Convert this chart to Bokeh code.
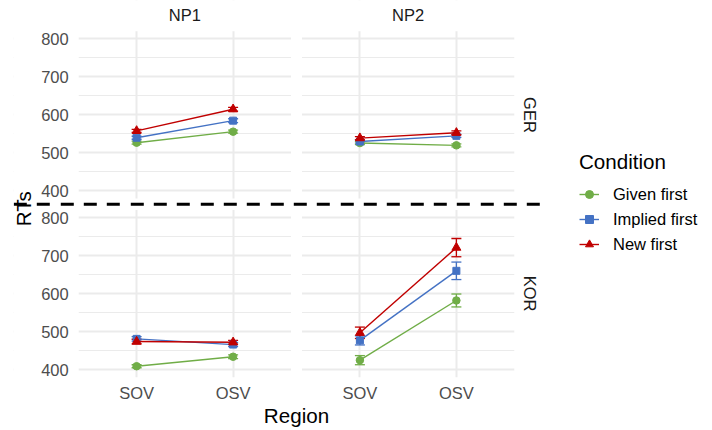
import math
from bokeh.plotting import figure
from bokeh.layouts import row
from bokeh.models import (ColumnDataSource, FactorRange, Range1d, FixedTicker,
                          CategoricalTicker, LinearAxis, Grid,
                          Legend, LegendItem, Whisker, TeeHead, Arrow, Label,
                          BoxAnnotation)
from bokeh.transform import dodge
from bokeh.core.properties import value
from bokeh.embed import file_html
from bokeh.resources import INLINE

# ---------------- data ----------------
regions = ["SOV", "OSV"]
positions = ["NP1", "NP2"]
languages = ["GER", "KOR"]
conditions = ["Given first", "Implied first", "New first"]

# mean RTs, values for [SOV, OSV]
ger_np1_given = [527, 556]
ger_np1_implied = [540, 585]
ger_np1_new = [558, 615]
ger_np2_given = [526, 520]
ger_np2_implied = [530, 545]
ger_np2_new = [539, 553]
kor_np1_given = [409, 434]
kor_np1_implied = [481, 466]
kor_np1_new = [474, 472]
kor_np2_given = [425, 582]
kor_np2_implied = [477, 660]
kor_np2_new = [497, 721]

# standard errors, [SOV, OSV]
ger_np1_given_se = [4, 4]
ger_np1_implied_se = [4, 5]
ger_np1_new_se = [4, 5]
ger_np2_given_se = [4, 4]
ger_np2_implied_se = [4, 4]
ger_np2_new_se = [4, 5]
kor_np1_given_se = [4, 5]
kor_np1_implied_se = [6, 5]
kor_np1_new_se = [6, 5]
kor_np2_given_se = [12, 17]
kor_np2_implied_se = [12, 23]
kor_np2_new_se = [15, 24]

y_ticks = [400, 500, 600, 700, 800]
y_minor_ticks = [450, 550, 650, 750]
y_limits = [380, 820]

means = {
    ("GER", "NP1"): [ger_np1_given, ger_np1_implied, ger_np1_new],
    ("GER", "NP2"): [ger_np2_given, ger_np2_implied, ger_np2_new],
    ("KOR", "NP1"): [kor_np1_given, kor_np1_implied, kor_np1_new],
    ("KOR", "NP2"): [kor_np2_given, kor_np2_implied, kor_np2_new],
}
ses = {
    ("GER", "NP1"): [ger_np1_given_se, ger_np1_implied_se, ger_np1_new_se],
    ("GER", "NP2"): [ger_np2_given_se, ger_np2_implied_se, ger_np2_new_se],
    ("KOR", "NP1"): [kor_np1_given_se, kor_np1_implied_se, kor_np1_new_se],
    ("KOR", "NP2"): [kor_np2_given_se, kor_np2_implied_se, kor_np2_new_se],
}

# ---------------- style ----------------
FONT = "Liberation Sans"
colors = ["#70AD47", "#4472C4", "#C00000"]
marker_types = ["circle", "square", "triangle"]
marker_sizes = [7.5, 7, 9]
GRID = "#EBEBEB"
TICK_SIZE = "16.5px"
TITLE_SIZE = "20.6px"

# ---------------- layout ----------------
# facets: GER panel stacked above KOR panel on one shared (offset) y scale
GAP = 30
offsets = {"GER": (y_limits[1] - y_limits[0]) + GAP, "KOR": 0}
y_range = Range1d(240, 1371)

GROUP_PAD = 0.314          # gap between NP1 and NP2 panels
PANEL_PAD = 0.6            # discrete-scale expansion inside each panel
RANGE_PAD = 0.776          # room outside the panels for labels
x_range = FactorRange(factors=[(pos, reg) for pos in positions for reg in regions],
                      factor_padding=0, group_padding=GROUP_PAD,
                      range_padding=RANGE_PAD, range_padding_units="absolute")
panel_left = 0.5 - PANEL_PAD
panel_right = len(positions) * len(regions) - 0.5 + GROUP_PAD + PANEL_PAD
gap_left = len(regions) - 0.5 + PANEL_PAD
gap_right = len(regions) + 0.5 + GROUP_PAD - PANEL_PAD
ger_bottom = y_limits[0] + offsets["GER"]
ger_top = y_limits[1] + offsets["GER"]

p = figure(x_range=x_range, y_range=y_range, width=579, height=430,
           min_border_left=13, min_border_right=0, min_border_top=0,
           min_border_bottom=0, x_axis_location=None, y_axis_location=None,
           toolbar_location=None, tools="", output_backend="svg")
p.outline_line_color = None
p.background_fill_color = "white"
p.border_fill_color = "white"
p.center = [r for r in p.center if not isinstance(r, Grid)]

major_v = [t + offsets[l] for l in languages for t in y_ticks]
minor_v = [t + offsets[l] for l in languages for t in y_minor_ticks]
overrides = {t + offsets[l]: str(t) for l in languages for t in y_ticks}

p.add_layout(Grid(dimension=0, ticker=CategoricalTicker(),
                  grid_line_color=GRID, grid_line_width=2), "center")
p.add_layout(Grid(dimension=1, ticker=FixedTicker(ticks=major_v, minor_ticks=minor_v),
                  grid_line_color=GRID, grid_line_width=2,
                  minor_grid_line_color=GRID, minor_grid_line_width=1.1), "center")
# white space around / between the facet panels
mask = dict(fill_color="white", fill_alpha=1, line_alpha=0, level="underlay")
p.add_layout(BoxAnnotation(right=panel_left, **mask))
p.add_layout(BoxAnnotation(left=panel_right, **mask))
p.add_layout(BoxAnnotation(left=gap_left, right=gap_right, **mask))
p.add_layout(BoxAnnotation(bottom=ger_top, **mask))
p.add_layout(BoxAnnotation(bottom=y_limits[1], top=ger_bottom, **mask))
p.add_layout(BoxAnnotation(top=y_limits[0], **mask))

# y axis drawn at the panels' left edge
left = LinearAxis(ticker=FixedTicker(ticks=major_v), major_label_overrides=overrides,
                  fixed_location=panel_left)
left.axis_line_color = None
left.major_tick_line_color = None
left.minor_tick_line_color = None
left.major_tick_out = 0
left.minor_tick_out = 0
left.major_tick_in = 0
left.major_label_standoff = 10
left.major_label_text_font = FONT
left.major_label_text_font_size = TICK_SIZE
left.major_label_text_color = "#4D4D4D"
p.add_layout(left, "left")

# data
for lang in languages:
    off = offsets[lang]
    for pos in positions:
        for i, cond in enumerate(conditions):
            m = means[(lang, pos)][i]
            s = ses[(lang, pos)][i]
            src = ColumnDataSource(dict(
                x=[(pos, r) for r in regions],
                rt=m,
                upper=[a + b for a, b in zip(m, s)],
                lower=[a - b for a, b in zip(m, s)],
            ))
            c = colors[i]
            p.add_layout(Whisker(base="x", upper=dodge("upper", off), lower=dodge("lower", off),
                                 source=src, dimension="height", line_color=c, line_width=1.3,
                                 upper_head=TeeHead(size=10, line_color=c, line_width=1.3),
                                 lower_head=TeeHead(size=10, line_color=c, line_width=1.3)))
            p.line(x="x", y=dodge("rt", off), source=src, line_color=c, line_width=1.4)
            p.scatter(x="x", y=dodge("rt", off), source=src, marker=marker_types[i],
                      size=marker_sizes[i], color=c)

# x tick labels (region) under the bottom panels
tick_src = ColumnDataSource(dict(x=[(pos, r) for pos in positions for r in regions],
                                 label=[r for pos in positions for r in regions]))
p.text(x="x", y=337.9, text="label", source=tick_src, text_align="center",
       text_baseline="middle", text_font=value(FONT), text_font_size=value(TICK_SIZE),
       text_color="#4D4D4D")
# facet strip labels on top
strip_src = ColumnDataSource(dict(x=positions, label=positions))
p.text(x="x", y=1333.4, text="label", source=strip_src, text_align="center",
       text_baseline="middle", text_font=value(FONT), text_font_size=value(TICK_SIZE),
       text_color="#1A1A1A")
for lang in languages:
    p.add_layout(Label(x=4.578, y=sum(y_limits) / 2 + offsets[lang], text=lang,
                       angle=-math.pi / 2, text_align="center", text_baseline="middle",
                       text_font=FONT, text_font_size=TICK_SIZE, text_color="#1A1A1A"))

# axis titles
p.add_layout(Label(x=(panel_left + panel_right) / 2, y=280.5, text="Region",
                   text_align="center", text_baseline="middle",
                   text_font=FONT, text_font_size=TITLE_SIZE, text_color="black"))
p.add_layout(Label(x=-0.673, y=823.1, text="RTs", angle=math.pi / 2,
                   text_align="center", text_baseline="middle",
                   text_font=FONT, text_font_size=TITLE_SIZE, text_color="black"))

# dashed separator between the language rows
dash_y = y_limits[1] + GAP / 2
p.add_layout(Arrow(end=None, x_start=-0.773, y_start=dash_y, x_end=4.687, y_end=dash_y,
                   line_color="black", line_width=3, line_dash="13 10 13 11 13 10"))

# ---------------- legend panel ----------------
lg = figure(width=133, height=430, x_range=Range1d(0, 1), y_range=Range1d(0, 1),
            min_border_left=0, min_border_right=0, min_border_top=0, min_border_bottom=0,
            x_axis_location=None, y_axis_location=None, toolbar_location=None, tools="",
            output_backend="svg")
lg.outline_line_color = None
lg.grid.visible = False
items = []
nan = float("nan")
for i, cond in enumerate(conditions):
    key_line = lg.line(x=[nan], y=[nan], line_color=colors[i], line_width=1.4)
    key_mark = lg.scatter(x=[nan], y=[nan], marker=marker_types[i], size=marker_sizes[i],
                          color=colors[i])
    items.append(LegendItem(label=cond, renderers=[key_line, key_mark]))

legend = Legend(items=items, location=(0, 176), title="Condition",
                title_text_font=FONT, title_text_font_size=TITLE_SIZE,
                title_text_font_style="normal", title_text_color="black",
                title_standoff=10,
                label_text_font=FONT, label_text_font_size=TICK_SIZE,
                label_text_color="black",
                glyph_width=20, glyph_height=20, label_height=20,
                label_standoff=14, spacing=5, padding=0, margin=0,
                border_line_color=None, background_fill_alpha=0)
lg.add_layout(legend, "center")

layout = row(p, lg)
open("out.html", "w").write(file_html(layout, INLINE))
